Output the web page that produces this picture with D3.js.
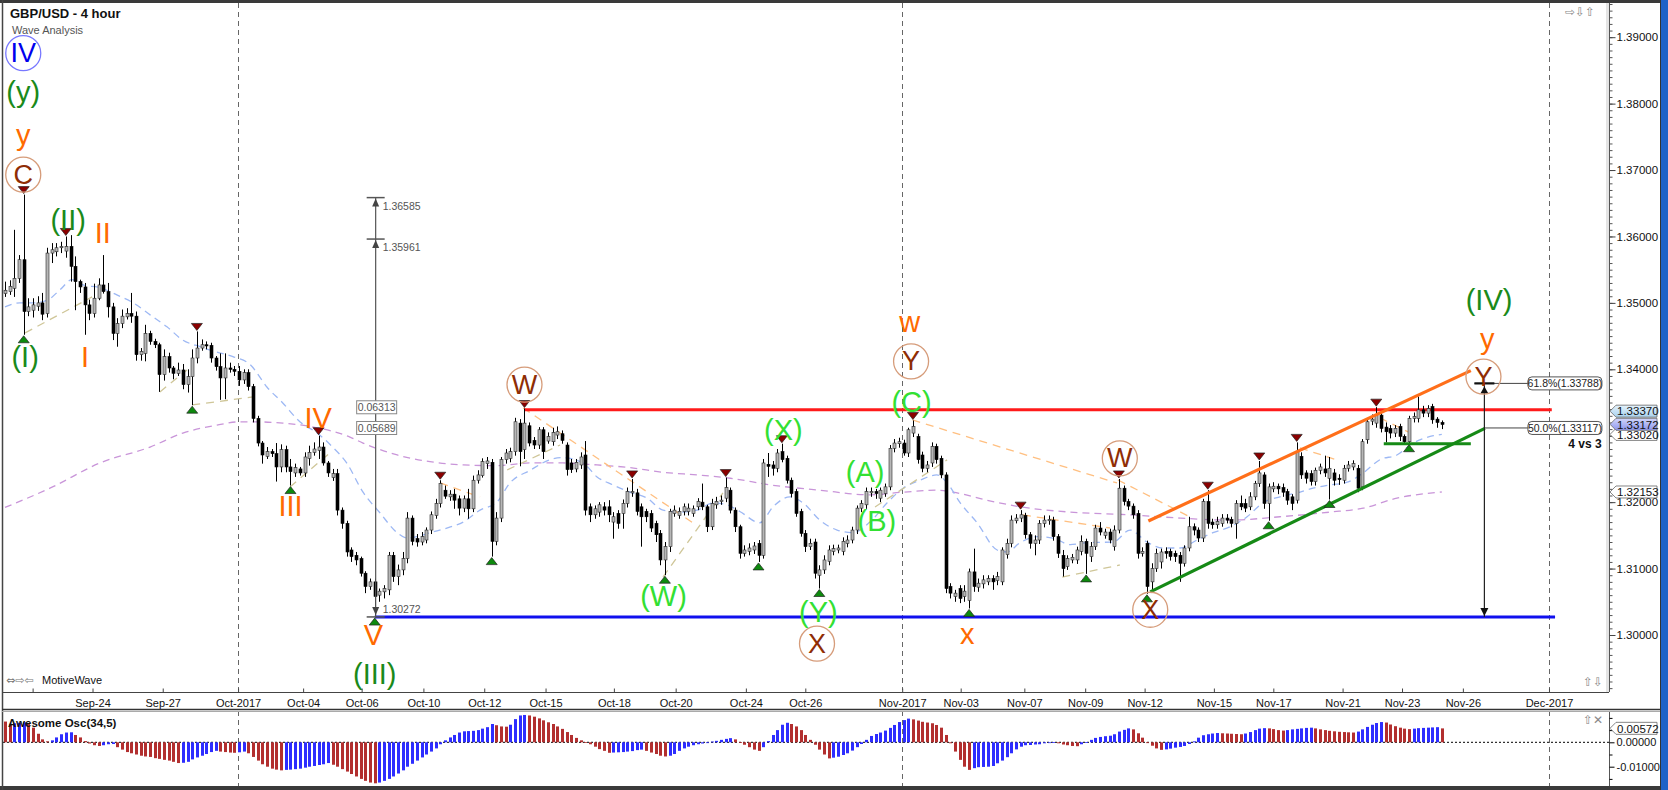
<!DOCTYPE html>
<html><head><meta charset="utf-8">
<script src="https://cdn.jsdelivr.net/npm/d3@7/dist/d3.min.js"></script>
<style>body{margin:0;background:#fff;overflow:hidden}svg{display:block;font-family:"Liberation Sans",Arial,sans-serif}</style>
</head><body><svg id="c" width="1668" height="790"></svg>
<script>
// ---------- DATA ----------
const opens=[1.3514,1.3517,1.3522,1.3537,1.3565,1.3487,1.3489,1.3495,1.3500,1.3484,
1.3575,1.3577,1.3583,1.3578,1.3585,1.3555,1.3532,1.3524,1.3497,1.3484,
1.3507,1.3527,1.3517,1.3494,1.3454,1.3469,1.3479,1.3484,1.3480,1.3422,
1.3424,1.3454,1.3442,1.3437,1.3392,1.3419,1.3402,1.3394,1.3399,1.3377,
1.3389,1.3417,1.3432,1.3437,1.3436,1.3417,1.3404,1.3387,1.3402,1.3400,
1.3397,1.3384,1.3395,1.3374,1.3326,1.3289,1.3269,1.3276,1.3273,1.3253,
1.3279,1.3253,1.3244,1.3250,1.3244,1.3266,1.3275,1.3278,1.3283,1.3259,
1.3237,1.3243,1.3188,1.3168,1.3128,1.3120,1.3115,1.3093,1.3073,1.3080,
1.3060,1.3065,1.3068,1.3120,1.3088,1.3098,1.3115,1.3176,1.3145,1.3140,
1.3143,1.3158,1.3180,1.3198,1.3218,1.3208,1.3212,1.3205,1.3191,1.3205,
1.3190,1.3233,1.3240,1.3258,1.3260,1.3141,1.3176,1.3264,1.3266,1.3276,
1.3319,1.3279,1.3315,1.3293,1.3286,1.3309,1.3292,1.3291,1.3301,1.3303,
1.3286,1.3259,1.3250,1.3256,1.3271,1.3193,1.3181,1.3185,1.3193,1.3193,
1.3170,1.3183,1.3183,1.3198,1.3214,1.3214,1.3193,1.3186,1.3183,1.3168,
1.3153,1.3113,1.3133,1.3183,1.3180,1.3186,1.3186,1.3183,1.3193,1.3200,
1.3193,1.3163,1.3196,1.3201,1.3206,1.3218,1.3188,1.3163,1.3123,1.3126,
1.3128,1.3138,1.3120,1.3257,1.3256,1.3251,1.3276,1.3266,1.3233,1.3216,
1.3186,1.3153,1.3133,1.3140,1.3090,1.3098,1.3111,1.3126,1.3128,1.3126,
1.3138,1.3143,1.3158,1.3191,1.3196,1.3214,1.3216,1.3206,1.3213,1.3223,
1.3281,1.3288,1.3289,1.3274,1.3304,1.3299,1.3271,1.3251,1.3259,1.3284,
1.3266,1.3241,1.3073,1.3058,1.3070,1.3058,1.3052,1.3095,1.3072,1.3077,
1.3080,1.3085,1.3082,1.3080,1.3121,1.3138,1.3172,1.3176,1.3180,1.3151,
1.3138,1.3143,1.3168,1.3172,1.3173,1.3148,1.3120,1.3103,1.3113,1.3113,
1.3126,1.3141,1.3118,1.3133,1.3161,1.3150,1.3155,1.3133,1.3158,1.3221,
1.3201,1.3194,1.3183,1.3123,1.3138,1.3080,1.3100,1.3110,1.3126,1.3126,
1.3123,1.3120,1.3108,1.3131,1.3163,1.3158,1.3146,1.3201,1.3170,1.3166,
1.3168,1.3176,1.3174,1.3168,1.3198,1.3198,1.3193,1.3208,1.3228,1.3241,
1.3198,1.3220,1.3224,1.3222,1.3216,1.3208,1.3203,1.3269,1.3244,1.3243,
1.3231,1.3248,1.3250,1.3236,1.3244,1.3236,1.3233,1.3251,1.3253,1.3251,
1.3223,1.3294,1.3322,1.3319,1.3331,1.3313,1.3311,1.3304,1.3314,1.3299,
1.3291,1.3326,1.3326,1.3339,1.3334,1.3344,1.3325,1.3320];
const highs=[1.3532,1.3534,1.3610,1.3572,1.3663,1.3507,1.3507,1.3510,1.3515,1.3583,
1.3590,1.3590,1.3592,1.3600,1.3602,1.3570,1.3535,1.3530,1.3505,1.3529,
1.3537,1.3572,1.3530,1.3500,1.3477,1.3490,1.3492,1.3515,1.3487,1.3432,
1.3467,1.3458,1.3446,1.3440,1.3430,1.3425,1.3405,1.3410,1.3408,1.3400,
1.3430,1.3457,1.3445,1.3442,1.3440,1.3420,1.3424,1.3424,1.3410,1.3405,
1.3405,1.3400,1.3400,1.3378,1.3330,1.3292,1.3283,1.3280,1.3289,1.3287,
1.3285,1.3265,1.3258,1.3253,1.3275,1.3285,1.3290,1.3300,1.3290,1.3262,
1.3250,1.3250,1.3192,1.3172,1.3132,1.3125,1.3118,1.3096,1.3085,1.3085,
1.3070,1.3075,1.3125,1.3125,1.3106,1.3125,1.3185,1.3180,1.3152,1.3155,
1.3162,1.3186,1.3205,1.3233,1.3225,1.3218,1.3220,1.3210,1.3210,1.3220,
1.3240,1.3248,1.3266,1.3268,1.3265,1.3185,1.3268,1.3280,1.3282,1.3327,
1.3325,1.3341,1.3320,1.3298,1.3313,1.3313,1.3305,1.3312,1.3314,1.3308,
1.3290,1.3265,1.3265,1.3275,1.3292,1.3198,1.3195,1.3200,1.3200,1.3203,
1.3185,1.3188,1.3204,1.3222,1.3235,1.3220,1.3198,1.3190,1.3188,1.3172,
1.3158,1.3140,1.3190,1.3195,1.3192,1.3198,1.3198,1.3195,1.3206,1.3228,
1.3196,1.3205,1.3208,1.3210,1.3237,1.3222,1.3192,1.3166,1.3135,1.3138,
1.3140,1.3143,1.3265,1.3274,1.3262,1.3280,1.3288,1.3270,1.3237,1.3220,
1.3190,1.3158,1.3145,1.3145,1.3105,1.3120,1.3135,1.3136,1.3136,1.3147,
1.3150,1.3163,1.3195,1.3203,1.3222,1.3222,1.3220,1.3222,1.3228,1.3286,
1.3295,1.3297,1.3294,1.3312,1.3323,1.3303,1.3276,1.3262,1.3290,1.3288,
1.3270,1.3245,1.3078,1.3068,1.3075,1.3075,1.3100,1.3130,1.3085,1.3090,
1.3090,1.3090,1.3095,1.3132,1.3145,1.3180,1.3182,1.3188,1.3184,1.3155,
1.3150,1.3173,1.3180,1.3180,1.3178,1.3152,1.3128,1.3120,1.3122,1.3133,
1.3150,1.3145,1.3140,1.3166,1.3170,1.3160,1.3160,1.3165,1.3235,1.3225,
1.3205,1.3198,1.3188,1.3132,1.3142,1.3108,1.3130,1.3130,1.3132,1.3130,
1.3127,1.3125,1.3135,1.3178,1.3168,1.3162,1.3205,1.3218,1.3175,1.3178,
1.3182,1.3182,1.3178,1.3203,1.3210,1.3205,1.3215,1.3232,1.3262,1.3245,
1.3228,1.3230,1.3228,1.3228,1.3220,1.3212,1.3290,1.3275,1.3248,1.3248,
1.3252,1.3258,1.3270,1.3268,1.3250,1.3242,1.3256,1.3262,1.3263,1.3256,
1.3295,1.3325,1.3332,1.3343,1.3335,1.3320,1.3316,1.3316,1.3318,1.3302,
1.3330,1.3335,1.3359,1.3345,1.3346,1.3348,1.3328,1.3323];
const lows=[1.3509,1.3512,1.3509,1.3530,1.3452,1.3480,1.3478,1.3488,1.3474,1.3478,
1.3560,1.3570,1.3575,1.3568,1.3532,1.3489,1.3515,1.3452,1.3474,1.3478,
1.3504,1.3514,1.3478,1.3444,1.3434,1.3462,1.3475,1.3470,1.3413,1.3413,
1.3412,1.3437,1.3432,1.3366,1.3383,1.3395,1.3385,1.3390,1.3370,1.3365,
1.3346,1.3409,1.3428,1.3430,1.3410,1.3398,1.3354,1.3355,1.3395,1.3390,
1.3375,1.3378,1.3368,1.3320,1.3284,1.3258,1.3265,1.3268,1.3231,1.3245,
1.3245,1.3225,1.3238,1.3240,1.3238,1.3255,1.3270,1.3265,1.3255,1.3238,
1.3232,1.3180,1.3160,1.3118,1.3110,1.3105,1.3088,1.3063,1.3068,1.3027,
1.3050,1.3055,1.3060,1.3080,1.3075,1.3090,1.3108,1.3135,1.3133,1.3135,
1.3138,1.3152,1.3175,1.3192,1.3205,1.3202,1.3190,1.3180,1.3185,1.3175,
1.3185,1.3228,1.3237,1.3250,1.3118,1.3135,1.3170,1.3258,1.3260,1.3270,
1.3254,1.3265,1.3284,1.3280,1.3280,1.3265,1.3288,1.3285,1.3295,1.3288,
1.3240,1.3244,1.3245,1.3250,1.3180,1.3170,1.3175,1.3178,1.3180,1.3170,
1.3145,1.3160,1.3160,1.3192,1.3208,1.3180,1.3133,1.3170,1.3155,1.3140,
1.3105,1.3090,1.3125,1.3178,1.3175,1.3180,1.3180,1.3178,1.3188,1.3188,
1.3155,1.3158,1.3190,1.3196,1.3200,1.3183,1.3155,1.3115,1.3118,1.3120,
1.3122,1.3110,1.3115,1.3238,1.3240,1.3245,1.3260,1.3228,1.3207,1.3178,
1.3148,1.3125,1.3128,1.3085,1.3070,1.3092,1.3105,1.3120,1.3123,1.3120,
1.3132,1.3138,1.3152,1.3185,1.3190,1.3208,1.3205,1.3200,1.3208,1.3218,
1.3275,1.3282,1.3270,1.3268,1.3298,1.3258,1.3245,1.3245,1.3253,1.3258,
1.3236,1.3063,1.3055,1.3050,1.3048,1.3050,1.3040,1.3065,1.3065,1.3070,
1.3075,1.3068,1.3075,1.3075,1.3115,1.3132,1.3168,1.3170,1.3145,1.3130,
1.3120,1.3137,1.3162,1.3166,1.3142,1.3116,1.3088,1.3098,1.3108,1.3107,
1.3120,1.3092,1.3110,1.3128,1.3150,1.3145,1.3138,1.3127,1.3153,1.3195,
1.3188,1.3175,1.3115,1.3118,1.3062,1.3065,1.3095,1.3100,1.3115,1.3112,
1.3110,1.3080,1.3103,1.3126,1.3150,1.3140,1.3140,1.3160,1.3160,1.3160,
1.3163,1.3168,1.3162,1.3145,1.3188,1.3185,1.3188,1.3203,1.3223,1.3190,
1.3172,1.3215,1.3212,1.3208,1.3196,1.3188,1.3198,1.3235,1.3228,1.3225,
1.3225,1.3242,1.3238,1.3204,1.3225,1.3226,1.3228,1.3246,1.3248,1.3215,
1.3218,1.3288,1.3316,1.3312,1.3305,1.3290,1.3296,1.3298,1.3292,1.3289,
1.3288,1.3320,1.3320,1.3328,1.3328,1.3318,1.3312,1.3310];
const closes=[1.3519,1.3525,1.3537,1.3565,1.3487,1.3494,1.3497,1.3500,1.3483,1.3575,
1.3580,1.3583,1.3585,1.3585,1.3555,1.3532,1.3524,1.3497,1.3484,1.3507,
1.3527,1.3517,1.3494,1.3454,1.3469,1.3480,1.3484,1.3480,1.3422,1.3427,
1.3454,1.3442,1.3437,1.3392,1.3419,1.3402,1.3394,1.3399,1.3377,1.3389,
1.3417,1.3432,1.3437,1.3436,1.3417,1.3404,1.3387,1.3402,1.3400,1.3397,
1.3384,1.3395,1.3374,1.3326,1.3289,1.3271,1.3276,1.3273,1.3253,1.3279,
1.3253,1.3246,1.3252,1.3244,1.3268,1.3275,1.3280,1.3283,1.3259,1.3244,
1.3243,1.3188,1.3168,1.3125,1.3118,1.3113,1.3093,1.3073,1.3080,1.3058,
1.3066,1.3070,1.3120,1.3088,1.3098,1.3115,1.3176,1.3141,1.3140,1.3148,
1.3158,1.3181,1.3198,1.3228,1.3209,1.3212,1.3203,1.3191,1.3205,1.3190,
1.3233,1.3241,1.3261,1.3262,1.3141,1.3176,1.3264,1.3274,1.3276,1.3321,
1.3276,1.3319,1.3289,1.3286,1.3309,1.3276,1.3299,1.3305,1.3306,1.3293,
1.3249,1.3249,1.3260,1.3268,1.3188,1.3181,1.3190,1.3196,1.3188,1.3181,
1.3178,1.3168,1.3198,1.3216,1.3216,1.3186,1.3178,1.3178,1.3161,1.3151,
1.3113,1.3133,1.3186,1.3188,1.3186,1.3193,1.3191,1.3190,1.3201,1.3193,
1.3163,1.3198,1.3201,1.3203,1.3222,1.3188,1.3163,1.3123,1.3128,1.3131,
1.3134,1.3120,1.3259,1.3254,1.3251,1.3274,1.3264,1.3233,1.3213,1.3183,
1.3153,1.3133,1.3138,1.3093,1.3098,1.3113,1.3128,1.3130,1.3131,1.3141,
1.3143,1.3158,1.3191,1.3198,1.3216,1.3216,1.3213,1.3218,1.3223,1.3281,
1.3289,1.3291,1.3274,1.3309,1.3314,1.3264,1.3251,1.3256,1.3284,1.3264,
1.3241,1.3070,1.3063,1.3063,1.3055,1.3066,1.3095,1.3073,1.3078,1.3083,
1.3085,1.3080,1.3088,1.3128,1.3138,1.3173,1.3176,1.3181,1.3151,1.3138,
1.3143,1.3168,1.3173,1.3174,1.3148,1.3123,1.3100,1.3115,1.3117,1.3128,
1.3141,1.3123,1.3133,1.3161,1.3155,1.3155,1.3143,1.3158,1.3221,1.3201,
1.3194,1.3181,1.3123,1.3126,1.3073,1.3100,1.3123,1.3125,1.3123,1.3118,
1.3118,1.3108,1.3131,1.3163,1.3158,1.3146,1.3201,1.3168,1.3166,1.3171,
1.3176,1.3173,1.3168,1.3198,1.3193,1.3191,1.3208,1.3228,1.3244,1.3198,
1.3223,1.3224,1.3220,1.3215,1.3203,1.3198,1.3276,1.3241,1.3236,1.3231,
1.3248,1.3253,1.3244,1.3251,1.3233,1.3234,1.3251,1.3256,1.3258,1.3221,
1.3291,1.3321,1.3325,1.3331,1.3311,1.3306,1.3304,1.3311,1.3299,1.3291,
1.3326,1.3329,1.3339,1.3334,1.3341,1.3324,1.3320,1.3317];
const aoValues=[0.0085,0.0076,0.0078,0.0080,0.0082,0.0078,0.0060,0.0035,0.0012,0.0004,
0.0008,0.0020,0.0033,0.0040,0.0041,0.0030,0.0020,0.0005,-0.0005,-0.0012,
-0.0015,-0.0012,-0.0008,-0.0007,-0.0020,-0.0030,-0.0040,-0.0045,-0.0050,-0.0055,
-0.0058,-0.0060,-0.0065,-0.0068,-0.0072,-0.0075,-0.0080,-0.0085,-0.0084,-0.0080,
-0.0070,-0.0062,-0.0055,-0.0048,-0.0040,-0.0035,-0.0038,-0.0040,-0.0042,-0.0043,
-0.0041,-0.0038,-0.0045,-0.0060,-0.0075,-0.0090,-0.0100,-0.0108,-0.0112,-0.0115,
-0.0113,-0.0112,-0.0110,-0.0108,-0.0104,-0.0100,-0.0097,-0.0093,-0.0090,-0.0085,
-0.0092,-0.0100,-0.0110,-0.0120,-0.0130,-0.0140,-0.0150,-0.0158,-0.0165,-0.0168,
-0.0165,-0.0158,-0.0150,-0.0140,-0.0128,-0.0115,-0.0100,-0.0088,-0.0075,-0.0062,
-0.0050,-0.0038,-0.0025,-0.0008,0.0008,0.0020,0.0030,0.0040,0.0045,0.0046,
0.0047,0.0050,0.0056,0.0062,0.0075,0.0070,0.0065,0.0064,0.0072,0.0095,
0.0110,0.0112,0.0110,0.0105,0.0098,0.0090,0.0082,0.0075,0.0065,0.0055,
0.0042,0.0030,0.0018,0.0008,0.0001,-0.0008,-0.0018,-0.0028,-0.0035,-0.0043,
-0.0042,-0.0041,-0.0040,-0.0038,-0.0036,-0.0032,-0.0030,-0.0035,-0.0042,-0.0048,
-0.0055,-0.0058,-0.0055,-0.0048,-0.0035,-0.0025,-0.0018,-0.0012,-0.0008,-0.0005,
-0.0002,0.0003,0.0006,0.0010,0.0014,0.0017,0.0012,0.0001,-0.0010,-0.0020,
-0.0030,-0.0035,-0.0020,0.0005,0.0030,0.0050,0.0072,0.0080,0.0075,0.0065,
0.0050,0.0030,0.0010,-0.0010,-0.0030,-0.0050,-0.0066,-0.0063,-0.0059,-0.0052,
-0.0045,-0.0034,-0.0020,-0.0007,0.0010,0.0026,0.0034,0.0040,0.0048,0.0059,
0.0071,0.0083,0.0091,0.0097,0.0094,0.0089,0.0084,0.0081,0.0078,0.0071,
0.0060,0.0030,-0.0004,-0.0038,-0.0072,-0.0100,-0.0113,-0.0106,-0.0102,-0.0101,
-0.0100,-0.0097,-0.0086,-0.0075,-0.0061,-0.0045,-0.0029,-0.0018,-0.0012,-0.0011,
-0.0009,-0.0008,-0.0004,-0.0003,0.0001,-0.0004,-0.0009,-0.0012,-0.0015,-0.0016,
-0.0008,0.0001,0.0010,0.0018,0.0022,0.0025,0.0027,0.0033,0.0044,0.0051,
0.0057,0.0053,0.0037,0.0019,-0.0001,-0.0014,-0.0025,-0.0031,-0.0029,-0.0026,
-0.0022,-0.0019,-0.0015,-0.0007,0.0004,0.0019,0.0029,0.0033,0.0036,0.0038,
0.0037,0.0036,0.0035,0.0034,0.0033,0.0036,0.0042,0.0050,0.0056,0.0058,
0.0057,0.0054,0.0050,0.0048,0.0050,0.0053,0.0055,0.0057,0.0059,0.0060,
0.0057,0.0053,0.0050,0.0047,0.0045,0.0043,0.0042,0.0041,0.0040,0.0044,
0.0053,0.0063,0.0072,0.0079,0.0083,0.0081,0.0073,0.0066,0.0060,0.0056,
0.0054,0.0056,0.0058,0.0059,0.0060,0.0061,0.0062,0.0057];
// moving averages sampled along the bars: [bar index, price]
const blueMA=[[0,1.3494],[3.2,1.3500],[6,1.3500],[9,1.3504],[11.8,1.3520],[14.3,1.3535],[16.7,1.3527],[20.3,1.3523],[23.9,1.3512],[27.4,1.3500],[31,1.3482],[34.6,1.3464],[38,1.3444],[41.7,1.3434],[45.3,1.3426],[48.7,1.3419],[52.4,1.3407],[56,1.3373],[59.4,1.3349],[63,1.3321],[66.7,1.3304],[70,1.3283],[73,1.3259],[76.5,1.3215],[80.1,1.3184],[83.8,1.3154],[85.9,1.3146],[88,1.3148],[90.8,1.3154],[94.4,1.3161],[97.9,1.3170],[101.5,1.3188],[105.1,1.3200],[107.9,1.3229],[112.2,1.3248],[116.5,1.3264],[119.2,1.3267],[123.5,1.3259],[126.5,1.3238],[129.9,1.3226],[133.5,1.3215],[137.2,1.3206],[140.6,1.3188],[144.2,1.3185],[147.9,1.3188],[151.3,1.3199],[154.6,1.3195],[157,1.3186],[161.3,1.3169],[164.1,1.3193],[167.7,1.3208],[170.5,1.3199],[174.1,1.3173],[177.8,1.3158],[181.2,1.3154],[184.8,1.3170],[188.5,1.3199],[191.9,1.3221],[195.5,1.3233],[199.1,1.3241],[201.3,1.3229],[204.1,1.3199],[207.7,1.3169],[212,1.3128],[214.1,1.3125],[216.9,1.3139],[220.5,1.3148],[223.9,1.3146],[227.6,1.3136],[231.2,1.3139],[236.8,1.3140],[240.4,1.3158],[244,1.3140],[247.4,1.3131],[251.1,1.3131],[254.7,1.3143],[258.1,1.3154],[261.8,1.3163],[265.4,1.3178],[268.8,1.3199],[272.4,1.3208],[276.1,1.3214],[279.5,1.3221],[283.1,1.3226],[286.8,1.3230],[290.2,1.3244],[293.8,1.3264],[297.4,1.3271],[300.9,1.3289],[305.2,1.3300],[307,1.3302]];
const purpleMA=[[0,1.3192],[9.6,1.3221],[20.3,1.3259],[31,1.3283],[38,1.3304],[45.3,1.3316],[50.2,1.3321],[53,1.3321],[59.4,1.3319],[66.7,1.3312],[73.7,1.3298],[76.5,1.3289],[83.8,1.3271],[90.8,1.3261],[97.9,1.3256],[105.1,1.3255],[112.2,1.3259],[119.2,1.3259],[126.5,1.3256],[133.5,1.3252],[140.6,1.3245],[147.9,1.3241],[155,1.3236],[163.5,1.3226],[174.1,1.3218],[184.8,1.3211],[191.9,1.3215],[199.1,1.3218],[202.6,1.3215],[209.8,1.3203],[216.9,1.3193],[227.6,1.3185],[240.4,1.3181],[251.1,1.3176],[261.8,1.3173],[272.4,1.3178],[283.1,1.3185],[290.2,1.3191],[297.4,1.3206],[307,1.32153]];
// time axis: bar position of each tick, label
const dateTickPos=[5.9,18.7,33.7,49.8,63.7,76.2,89.4,102.4,115.5,130.1,143.3,158.3,171,191.7,204.2,217.8,230.8,243.5,258.3,271,285.8,298.5,311.5,329.9];
const dateTickLabels=["","Sep-24","Sep-27","Oct-2017","Oct-04","Oct-06","Oct-10","Oct-12","Oct-15","Oct-18","Oct-20","Oct-24","Oct-26","Nov-2017","Nov-03","Nov-07","Nov-09","Nov-12","Nov-15","Nov-17","Nov-21","Nov-23","Nov-26","Dec-2017"];
const priceTicks=[1.30,1.31,1.32,1.33,1.34,1.35,1.36,1.37,1.38,1.39];
const aoTicks=[0,-0.01];
// pivot markers (bar indices)
const highMarkers=[4,13,41,67,93,111,134,154,166,194,217,238,257,268,276,293];
const lowMarkers=[4,40,61,79,104,141,161,174,206,231,244,270,283,300];
// wave labels: bar index, price, text, colour key, circled
const waveLabels=[
{i:3.9,p:1.3876,t:"IV",k:"bl",c:1},{i:3.9,p:1.3818,t:"(y)",k:"dg"},{i:3.9,p:1.3753,t:"y",k:"or"},{i:3.9,p:1.3693,t:"C",k:"br",c:1},
{i:13.5,p:1.3625,t:"(II)",k:"dg"},{i:20.9,p:1.3605,t:"II",k:"or"},{i:4.3,p:1.3419,t:"(I)",k:"dg"},{i:17.1,p:1.3419,t:"I",k:"or"},
{i:66.9,p:1.3326,t:"IV",k:"or"},{i:61,p:1.3194,t:"III",k:"or"},{i:78.7,p:1.3000,t:"V",k:"or"},{i:79,p:1.2941,t:"(III)",k:"dg"},
{i:111,p:1.3377,t:"W",k:"br",c:1},{i:140.7,p:1.3058,t:"(W)",k:"lg"},{i:166.3,p:1.3309,t:"(X)",k:"lg"},{i:173.8,p:1.3035,t:"(Y)",k:"lg"},
{i:173.5,p:1.2987,t:"X",k:"br",c:1},{i:183.8,p:1.3246,t:"(A)",k:"lg"},{i:186.3,p:1.3171,t:"(B)",k:"lg"},{i:193.7,p:1.3351,t:"(C)",k:"lg"},
{i:193.6,p:1.3412,t:"Y",k:"br",c:1},{i:193.3,p:1.3471,t:"w",k:"or"},{i:205.6,p:1.3002,t:"x",k:"or"},{i:238.2,p:1.3266,t:"W",k:"br",c:1},
{i:244.7,p:1.3038,t:"X",k:"br",c:1},{i:317.1,p:1.3505,t:"(IV)",k:"dg"},{i:316.7,p:1.3446,t:"y",k:"or"},{i:315.9,p:1.3389,t:"Y",k:"br",c:1}];
// dashed pivot connectors [[bar,price],[bar,price],kind]
const trendLines=[[[193.9,1.33238],[237.6,1.32289],"or"],[[110.7,1.33419],[147,1.31687],"or"],[[140.6,1.30873],[153.4,1.32139],"tan"],
[[4.3,1.34548],[18.6,1.35090],"tan"],[[33.1,1.33660],[38.9,1.33991],"tan"],[[40,1.33464],[53,1.33584],"tan"],[[60.9,1.32229],[69.4,1.32741],"tan"],
[[93,1.32289],[101.5,1.32078],"or"],[[107.3,1.32485],[118.6,1.32861],"tan"],[[185.9,1.31928],[201.3,1.32636],"tan"],[[217.5,1.31807],[236.1,1.31611],"or"],
[[225.9,1.30873],[238.2,1.31054],"tan"],[[237.8,1.32334],[253.2,1.31777],"or"],[[276.7,1.32816],[284.6,1.32636],"or"],[[293.8,1.33268],[299.8,1.33057],"or"]];
const resistance={from:111,to:330.5,v:1.3339};
const support={from:79,to:331.2,v:1.30272};
const orangeChannel=[[244.3,1.31717],[313.2,1.3398]];
const greenChannel=[[244.7,1.3065],[316.2,1.3311]];
const greenFlat=[[294.6,1.3288],[313.2,1.3288]];
const measureLeft={i:79.2,low:1.30272,levels:[1.36585,1.35961],diffs:["0.06313","0.05689"]};
const measureRight={i:316.1,top:1.33788,low:1.30272};
const fibLevels=[{v:1.33788,from:314,label:"61.8%(1.33788)"},{v:1.33117,from:316.2,label:"50.0%(1.33117)"}];
const fibBoxAt=325.4;
const axisTags=[{v:1.33020,fill:"#ffffff"},{v:1.32153,fill:"#ffffff"},{v:1.33370,fill:"url(#gLB)"},{v:1.33172,fill:"url(#gPB)"}];
const aoTag=0.00572;
const note={i:337.6,p:1.3287,t:"4 vs 3"};

// ---------- DRAW ----------
const svg=d3.select("#c");
const defs=svg.append("defs");
const lg1=defs.append("linearGradient").attr("id","gLB").attr("x1",0).attr("y1",0).attr("x2",0).attr("y2",1);
lg1.append("stop").attr("offset","0").attr("stop-color","#e4f2fc");lg1.append("stop").attr("offset","1").attr("stop-color","#a9d2ee");
const lg2=defs.append("linearGradient").attr("id","gPB").attr("x1",0).attr("y1",0).attr("x2",0).attr("y2",1);
lg2.append("stop").attr("offset","0").attr("stop-color","#d2d6fb");lg2.append("stop").attr("offset","1").attr("stop-color","#8c95ec");

const x=d3.scaleLinear().domain([0,closes.length-1]).range([5,1441.8]);
const y=d3.scaleLinear().domain([1.30,1.39]).range([635,37.2]);
const ya=d3.scaleLinear().domain([0,-0.01]).range([742.3,766.7]);
const AXX=1609;

svg.append("rect").attr("width",1668).attr("height",790).attr("fill","#fff");

// month separators
dateTickPos.forEach((p,k)=>{ if(!/2017/.test(dateTickLabels[k]))return;
  const xx=Math.round(x(p))+0.5;
  [[3,690],[711,786]].forEach(r=>svg.append("line").attr("x1",xx).attr("x2",xx).attr("y1",r[0]).attr("y2",r[1]).attr("stroke","#666").attr("stroke-dasharray","5,4"));
});

// moving averages
const maLine=d3.line().x(d=>x(d[0])).y(d=>y(d[1])).curve(d3.curveMonotoneX);
svg.append("path").attr("d",maLine(purpleMA)).attr("fill","none").attr("stroke","#c995d9").attr("stroke-width",1.3).attr("stroke-dasharray","7,5");
svg.append("path").attr("d",maLine(blueMA)).attr("fill","none").attr("stroke","#9db8f4").attr("stroke-width",1.3).attr("stroke-dasharray","7,5");

// dashed connectors
trendLines.forEach(t=>svg.append("line").attr("x1",x(t[0][0])).attr("y1",y(t[0][1])).attr("x2",x(t[1][0])).attr("y2",y(t[1][1]))
  .attr("stroke",t[2]==="or"?"#ffbf80":"#cfc698").attr("stroke-width",1.3).attr("stroke-dasharray","8,6"));

// horizontal levels
svg.append("line").attr("x1",x(resistance.from)).attr("x2",x(resistance.to)).attr("y1",y(resistance.v)).attr("y2",y(resistance.v)).attr("stroke","#ff1a1a").attr("stroke-width",3);
svg.append("line").attr("x1",x(support.from)).attr("x2",x(support.to)).attr("y1",y(support.v)).attr("y2",y(support.v)).attr("stroke","#1010ee").attr("stroke-width",3);

// candles
const cg=svg.append("g");
closes.forEach((c,i)=>{
  const o=opens[i],h=highs[i],l=lows[i];
  const r=Math.round(x(i));
  cg.append("line").attr("x1",r+0.5).attr("x2",r+0.5).attr("y1",y(h)).attr("y2",y(l)).attr("stroke","#000").attr("stroke-width",1);
  const up=c>=o; const top=y(Math.max(o,c)); const hh=Math.max(1.2,Math.abs(y(o)-y(c)));
  cg.append("rect").attr("x",r-1).attr("y",top).attr("width",3).attr("height",hh)
    .attr("fill",up?"#b7b7b7":"#000").attr("stroke",up?"#2a2a2a":"#000").attr("stroke-width",0.6);
});

// channel lines
const ln=(a,col,w)=>svg.append("line").attr("x1",x(a[0][0])).attr("y1",y(a[0][1])).attr("x2",x(a[1][0])).attr("y2",y(a[1][1])).attr("stroke",col).attr("stroke-width",w);
ln(orangeChannel,"#ff6f1a",3.2);
ln(greenChannel,"#168a16",3.2);
ln(greenFlat,"#168a16",3);

// pivot markers
highMarkers.forEach(i=>{const cx=x(i),cy=y(highs[i])-1;
  svg.append("path").attr("d",`M${cx-5.5},${cy-7}L${cx+5.5},${cy-7}L${cx},${cy}Z`).attr("fill","#8b0000").attr("stroke","#222").attr("stroke-width",0.7);});
lowMarkers.forEach(i=>{const cx=x(i),cy=y(lows[i])+1;
  svg.append("path").attr("d",`M${cx-5.5},${cy+7}L${cx+5.5},${cy+7}L${cx},${cy}Z`).attr("fill","#0d8a0d").attr("stroke","#222").attr("stroke-width",0.7);});

// measurement tool (left)
{const mx=x(measureLeft.i),yl=y(measureLeft.low);
 const g=svg.append("g").attr("stroke","#555");
 g.append("line").attr("x1",mx).attr("x2",mx).attr("y1",y(measureLeft.levels[0])).attr("y2",yl).attr("stroke-width",1.2);
 [...measureLeft.levels,measureLeft.low].forEach(v=>g.append("line").attr("x1",mx-9).attr("x2",mx+9).attr("y1",y(v)).attr("y2",y(v)).attr("stroke-width",1.5));
 measureLeft.levels.forEach((v,k)=>{const yy=y(v);
   svg.append("path").attr("d",`M${mx-3.5},${yy+9}L${mx+3.5},${yy+9}L${mx},${yy+1}Z`).attr("fill","#444");
   svg.append("text").attr("x",mx+7).attr("y",yy+12).attr("font-size",10.5).attr("fill","#555").text(v.toFixed(5));
   const mid=y((v+measureLeft.low)/2);
   svg.append("rect").attr("x",mx-19).attr("y",mid-6.5).attr("width",40).attr("height",13).attr("fill","#fff").attr("stroke","#888");
   svg.append("text").attr("x",mx+1).attr("y",mid+4).attr("text-anchor","middle").attr("font-size",10.5).attr("fill","#555").text(measureLeft.diffs[k]);
 });
 svg.append("path").attr("d",`M${mx-3.5},${yl-10}L${mx+3.5},${yl-10}L${mx},${yl-2}Z`).attr("fill","#444");
 svg.append("text").attr("x",mx+7).attr("y",yl-4).attr("font-size",10.5).attr("fill","#555").text(measureLeft.low.toFixed(5));
}

// fib levels
fibLevels.forEach(f=>{const yy=y(f.v),bx=x(fibBoxAt);
  svg.append("line").attr("x1",x(f.from)).attr("x2",bx).attr("y1",yy).attr("y2",yy).attr("stroke","#444").attr("stroke-width",1);
  svg.append("rect").attr("x",bx).attr("y",yy-6.5).attr("width",74).attr("height",13).attr("rx",4).attr("fill","#fff").attr("stroke","#555");
  svg.append("text").attr("x",bx+37).attr("y",yy+4).attr("text-anchor","middle").attr("font-size",10.5).attr("fill","#222").text(f.label);
});
// measurement tool (right)
{const mx=x(measureRight.i),yt=y(measureRight.top),yl=y(measureRight.low);
 svg.append("line").attr("x1",mx).attr("x2",mx).attr("y1",yt).attr("y2",yl).attr("stroke","#222").attr("stroke-width",1.2);
 svg.append("line").attr("x1",mx-10).attr("x2",mx+10).attr("y1",yt).attr("y2",yt).attr("stroke","#111").attr("stroke-width",2.2);
 svg.append("path").attr("d",`M${mx-4},${yt+10}L${mx+4},${yt+10}L${mx},${yt+3}Z`).attr("fill","#111");
 svg.append("path").attr("d",`M${mx-4},${yl-9}L${mx+4},${yl-9}L${mx},${yl-1}Z`).attr("fill","#111");
}

// wave labels
const col={dg:"#1a8a1a",lg:"#33e033",or:"#ff6a00",br:"#8f2d05",bl:"#0000ee"};
const ring={br:"#d69c7a",bl:"#7878ff"};
waveLabels.forEach(d=>{const cx=x(d.i),cy=y(d.p);
  if(d.c) svg.append("circle").attr("cx",cx).attr("cy",cy).attr("r",17.5).attr("fill","none").attr("stroke",ring[d.k]).attr("stroke-width",1.3);
  svg.append("text").attr("x",cx).attr("y",cy).attr("text-anchor","middle").attr("dominant-baseline","central")
    .attr("font-size",d.c?27:29).attr("fill",col[d.k]).text(d.t);
});
svg.append("text").attr("x",x(note.i)).attr("y",y(note.p)).attr("text-anchor","middle").attr("dominant-baseline","central")
  .attr("font-size",12).attr("font-weight","bold").attr("fill","#111").text(note.t);

// ---------- Awesome oscillator ----------
svg.append("line").attr("x1",3).attr("x2",AXX).attr("y1",ya(0)).attr("y2",ya(0)).attr("stroke","#000").attr("stroke-dasharray","2,2");
aoValues.forEach((v,i)=>{const r=Math.round(x(i));const upc=i>0&&v>aoValues[i-1];
  svg.append("rect").attr("x",r-1).attr("y",Math.min(ya(v),ya(0))).attr("width",3).attr("height",Math.max(0.8,Math.abs(ya(v)-ya(0))))
   .attr("fill",upc?"#2d2dff":"#b22f2f");});
svg.append("text").attr("x",8).attr("y",727).attr("font-size",11.5).attr("font-weight","bold").attr("fill","#111").text("Awesome Osc(34,5)");

// ---------- frame ----------
svg.append("rect").attr("x",0).attr("y",0).attr("width",1668).attr("height",3).attr("fill","#3a3a3a");
svg.append("rect").attr("x",0).attr("y",786).attr("width",1668).attr("height",4).attr("fill","#3a3a3a");
svg.append("line").attr("x1",2.5).attr("x2",2.5).attr("y1",0).attr("y2",790).attr("stroke","#444").attr("stroke-width",1.5);
svg.append("line").attr("x1",2).attr("x2",AXX).attr("y1",692.5).attr("y2",692.5).attr("stroke","#444");
svg.append("line").attr("x1",2).attr("x2",1661).attr("y1",709.5).attr("y2",709.5).attr("stroke","#333").attr("stroke-width",1.5);
svg.append("line").attr("x1",2).attr("x2",1661).attr("y1",711.5).attr("y2",711.5).attr("stroke","#aaa");
svg.append("rect").attr("x",1661).attr("y",0).attr("width",7).attr("height",790).attr("fill","#1f62c8");
svg.append("line").attr("x1",1660.5).attr("x2",1660.5).attr("y1",0).attr("y2",790).attr("stroke","#333");
svg.append("rect").attr("x",AXX-3).attr("y",3).attr("width",3).attr("height",689).attr("fill","#e4e4e4");
svg.append("line").attr("x1",AXX+0.5).attr("x2",AXX+0.5).attr("y1",3).attr("y2",692).attr("stroke","#555");
svg.append("line").attr("x1",AXX+0.5).attr("x2",AXX+0.5).attr("y1",712).attr("y2",786).attr("stroke","#555");

// price axis
const minor=svg.append("g").attr("transform",`translate(${AXX+0.5},0)`).call(d3.axisRight(y).tickValues(d3.range(1.292,1.3951,0.001)).tickSize(3).tickFormat(""));
minor.select(".domain").remove(); minor.selectAll("line").attr("stroke","#555");
const pa=svg.append("g").attr("transform",`translate(${AXX+0.5},0)`).call(d3.axisRight(y).tickValues(priceTicks).tickSize(6).tickPadding(1).tickFormat(d=>d.toFixed(5)));
pa.select(".domain").remove(); pa.selectAll("line").attr("stroke","#444");
pa.selectAll("text").attr("font-size",11.5).attr("fill","#111").attr("font-family","Liberation Sans, Arial, sans-serif");

// time axis
const ta=svg.append("g").attr("transform","translate(0,692.5)").call(d3.axisBottom(x).tickValues(dateTickPos).tickSize(-4).tickPadding(7).tickFormat((d,k)=>dateTickLabels[k]));
ta.select(".domain").remove(); ta.selectAll("line").attr("stroke","#444");
ta.selectAll("text").attr("font-size",11).attr("fill","#111").attr("font-family","Liberation Sans, Arial, sans-serif");

// AO axis
const aa=svg.append("g").attr("transform",`translate(${AXX+0.5},0)`).call(d3.axisRight(ya).tickValues(aoTicks).tickSize(5).tickPadding(2).tickFormat(d=>d.toFixed(5)));
aa.select(".domain").remove(); aa.selectAll("text").attr("font-size",11).attr("fill","#111").attr("font-family","Liberation Sans, Arial, sans-serif");
const am=svg.append("g").attr("transform",`translate(${AXX+0.5},0)`).call(d3.axisRight(ya).tickValues([0.01,0.005,-0.005,-0.015]).tickSize(3).tickFormat(""));
am.select(".domain").remove();

// axis tags
const tag=(yy,fill,txt)=>{
  svg.append("path").attr("d",`M${AXX+1},${yy}L${AXX+7},${yy-6}L1657,${yy-6}L1657,${yy+6}L${AXX+7},${yy+6}Z`).attr("fill",fill).attr("stroke","#666").attr("stroke-width",0.8);
  svg.append("text").attr("x",AXX+8).attr("y",yy+4.2).attr("font-size",11.5).attr("fill","#111").text(txt);
};
axisTags.forEach(t=>tag(y(t.v),t.fill,t.v.toFixed(5)));
tag(ya(aoTag),"#fff",aoTag.toFixed(5));

// title & misc text
svg.append("text").attr("x",10).attr("y",18).attr("font-size",13).attr("font-weight","bold").attr("fill","#111").text("GBP/USD - 4 hour");
svg.append("text").attr("x",12).attr("y",34).attr("font-size",11).attr("fill","#555").text("Wave Analysis");
svg.append("text").attr("x",6).attr("y",684).attr("font-size",11).attr("fill","#777").attr("font-family","DejaVu Sans").text("⇔⇨⇦");
svg.append("text").attr("x",42).attr("y",684).attr("font-size",11).attr("fill","#111").text("MotiveWave");
svg.append("text").attr("x",1565).attr("y",16).attr("font-size",12).attr("fill","#888").attr("font-family","DejaVu Sans").text("⇨⇩⇧");
svg.append("text").attr("x",1583).attr("y",686).attr("font-size",12).attr("fill","#888").attr("font-family","DejaVu Sans").text("⇧⇩");
svg.append("text").attr("x",1583).attr("y",724).attr("font-size",12).attr("fill","#888").attr("font-family","DejaVu Sans").text("⇧✕");
</script></body></html>
